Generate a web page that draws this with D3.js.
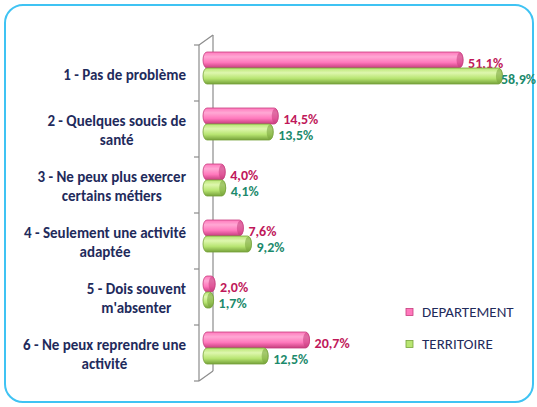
<!DOCTYPE html>
<html>
<head>
<meta charset="utf-8">
<script src="https://cdn.jsdelivr.net/npm/d3@7"></script>
<style>
  body { margin: 0; background: #fff; }
  text { font-family: Carlito, Lato, "Open Sans", sans-serif; }
</style>
</head>
<body>
<div id="chart"></div>
<script>
var width = 537,
    height = 407;

var categories = [
  ["1 - Pas de problème"],
  ["2 - Quelques soucis de", "santé"],
  ["3 - Ne peux plus exercer", "certains métiers"],
  ["4 - Seulement une activité", "adaptée"],
  ["5 - Dois souvent", "m'absenter"],
  ["6 - Ne peux reprendre une", "activité"]
];
var seriesNames = ["DEPARTEMENT", "TERRITOIRE"];
var departement = [51.1, 14.5, 4.0, 7.6, 2.0, 20.7];
var territoire = [58.9, 13.5, 4.1, 9.2, 1.7, 12.5];

var barColors = {
  DEPARTEMENT: {light: "#ffa8d4", mid: "#ff78bc", dark: "#c63c7d", text: "#c0185a"},
  TERRITOIRE: {light: "#def7ae", mid: "#b8e572", dark: "#76a23a", text: "#1c8a6c"}
};

var svg = d3.select("#chart").append("svg")
    .attr("width", width)
    .attr("height", height);

// gradients for the cylinder look
var defs = svg.append("defs");
seriesNames.forEach(function(s) {
  var c = barColors[s];
  var g = defs.append("linearGradient")
      .attr("id", "grad-" + s)
      .attr("x1", 0).attr("y1", 0).attr("x2", 0).attr("y2", 1);
  g.append("stop").attr("offset", "0%").attr("stop-color", c.mid);
  g.append("stop").attr("offset", "30%").attr("stop-color", c.light);
  g.append("stop").attr("offset", "65%").attr("stop-color", c.mid);
  g.append("stop").attr("offset", "100%").attr("stop-color", c.dark);
});

// frame
svg.append("rect")
    .attr("x", 5).attr("y", 5)
    .attr("width", 528).attr("height", 397)
    .attr("rx", 18).attr("ry", 18)
    .style("fill", "#fff")
    .style("stroke", "#3fc3f3")
    .style("stroke-width", 2);

var x = d3.scaleLinear().domain([0, 60]).range([205, 508]);

var y = d3.scaleBand()
    .domain(d3.range(categories.length))
    .range([45, 381]);

var ySub = d3.scaleBand()
    .domain(seriesNames)
    .range([7, 39]);

// 3D wall of the axis
var depth = {dx: 14, dy: -10};
var wall = svg.append("g")
    .style("stroke", "#8c8c8c")
    .style("stroke-width", 1.2)
    .style("fill", "none");

wall.append("path")
    .attr("d", "M" + (199 + depth.dx) + "," + (y.range()[0] + depth.dy) +
               "V" + (y.range()[1] + depth.dy));
wall.append("path")
    .attr("d", "M199," + y.range()[0] + "V" + y.range()[1]);
wall.append("path")
    .attr("d", "M199," + y.range()[0] + "L" + (199 + depth.dx) + "," + (y.range()[0] + depth.dy));
wall.append("path")
    .attr("d", "M199," + y.range()[1] + "L" + (199 + depth.dx) + "," + (y.range()[1] + depth.dy));

wall.selectAll(".tick")
    .data(d3.range(categories.length + 1))
    .enter().append("path")
    .attr("d", function(i) {
      var yy = y.range()[0] + i * y.step();
      return "M194," + yy + "H199";
    });

// bars
var rows = categories.map(function(c, i) {
  return [
    {cat: i, series: "DEPARTEMENT", value: departement[i]},
    {cat: i, series: "TERRITOIRE", value: territoire[i]}
  ];
});

var group = svg.append("g").selectAll("g")
    .data(rows)
    .enter().append("g")
    .attr("transform", function(d, i) { return "translate(0," + y(i) + ")"; });

var bar = group.selectAll("g")
    .data(function(d) { return d; })
    .enter().append("g");

var h = ySub.bandwidth();

bar.append("rect")
    .attr("x", x(0) - 2)
    .attr("y", function(d) { return ySub(d.series); })
    .attr("width", function(d) { return x(d.value) - x(0) + 2; })
    .attr("height", h)
    .attr("rx", 4).attr("ry", h / 2)
    .style("fill", function(d) { return "url(#grad-" + d.series + ")"; })
    .style("stroke", function(d) { return barColors[d.series].dark; })
    .style("stroke-width", 0.8);

// end caps
bar.append("ellipse")
    .attr("cx", function(d) { return x(d.value) - 3; })
    .attr("cy", function(d) { return ySub(d.series) + h / 2; })
    .attr("rx", 3.5)
    .attr("ry", h / 2 - 0.5)
    .style("fill", function(d) { return barColors[d.series].dark; })
    .style("opacity", 0.55);

// value labels
bar.append("text")
    .attr("y", function(d) { return ySub(d.series) + h / 2 + 3; })
    .attr("dy", "0.35em")
    .style("font-size", "14px")
    .style("font-weight", "bold")
    .style("fill", function(d) { return barColors[d.series].text; })
    .text(function(d) { return d3.format(".1f")(d.value).replace(".", ",") + "%"; })
    .attr("x", function(d) {
      var w = this.getComputedTextLength();
      return Math.min(x(d.value) + 5, width - 1 - w);
    });

// category labels
var labels = svg.append("g").selectAll("text")
    .data(categories)
    .enter().append("text")
    .style("font-size", "15px")
    .style("font-weight", "bold")
    .style("fill", "#1f2b5c")
    .attr("text-anchor", "middle");

labels.each(function(lines, i) {
  var t = d3.select(this);
  var cy = y(i) + y.bandwidth() / 2 + 1.5;
  var lh = 19;
  lines.forEach(function(line, j) {
    t.append("tspan")
        .attr("y", cy + (j - (lines.length - 1) / 2) * lh)
        .attr("dy", "0.35em")
        .text(line);
  });
  var w = d3.max(t.selectAll("tspan").nodes(), function(n) { return n.getComputedTextLength(); });
  t.selectAll("tspan").attr("x", 186 - w / 2);
});

// legend
var legend = svg.append("g").selectAll("g")
    .data(seriesNames)
    .enter().append("g")
    .attr("transform", function(d, i) { return "translate(406," + (312 + i * 32) + ")"; });

legend.append("rect")
    .attr("x", 0).attr("y", -3.5)
    .attr("width", 7).attr("height", 7)
    .style("fill", function(d) { return barColors[d].mid; })
    .style("stroke", function(d) { return barColors[d].dark; })
    .style("stroke-width", 0.8);

legend.append("text")
    .attr("x", 16)
    .attr("dy", "0.35em")
    .style("font-size", "15px")
    .style("fill", "#1f2b5c")
    .text(function(d) { return d; });
</script>
</body>
</html>
